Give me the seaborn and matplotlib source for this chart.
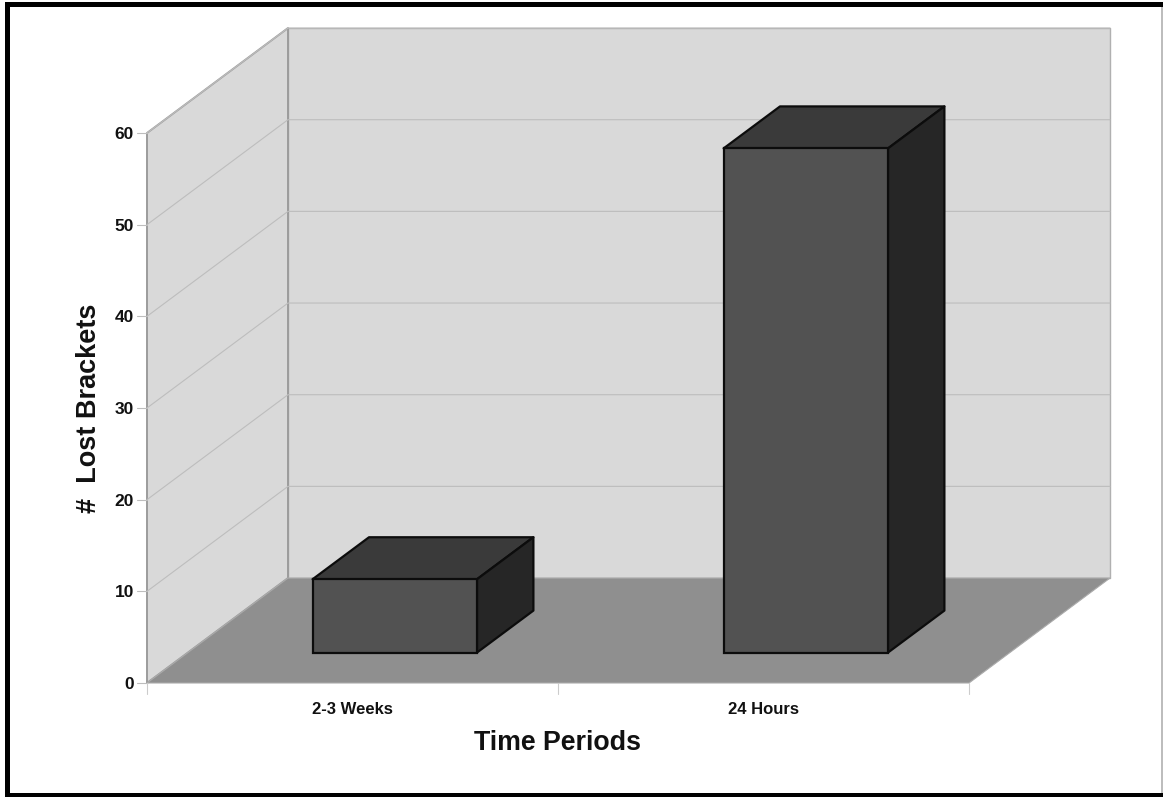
import matplotlib
matplotlib.use('Agg')
import matplotlib.pyplot as plt
import pandas as pd
import seaborn as sns
from matplotlib.patches import Polygon, Rectangle

periods = ['2-3 Weeks', '24 Hours']
lost_brackets = [8, 55]
y_ticks = [0, 10, 20, 30, 40, 50, 60]

WIDTH, HEIGHT = 1163, 797
# plot box of the front plane, in pixels
LEFT, RIGHT, TOP, BOTTOM = 147, 969, 133, 683
# depth of the fake 3d box, in data units
DEPTH_X = 141 / 411
DEPTH_Y = 11.45
BAR_START_X = 0.30
BAR_START_Y = 0.29
BAR_DEPTH = 0.4

WALL = '#d9d9d9'
FLOOR = '#8f8f8f'
GRID = '#bdbdbd'
EDGE = '#9c9c9c'
FRONT = '#525252'
TOPC = '#3a3a3a'
SIDE = '#262626'
INK = '#111111'
BAR_EDGE = '#0c0c0c'


def poly(ax, pts, color, edge='none', lw=0.0, z=1):
    ax.add_patch(Polygon(pts, closed=True, facecolor=color, edgecolor=edge,
                         linewidth=lw, zorder=z, clip_on=False, joinstyle='round'))


def frame_bar(fig, x0, y0, x1, y1, color='black'):
    # pixel box, y measured from the top of the picture
    fig.add_artist(Rectangle((x0 / WIDTH, 1 - y1 / HEIGHT), (x1 - x0) / WIDTH, (y1 - y0) / HEIGHT,
                             transform=fig.transFigure, facecolor=color, edgecolor='none'))


def main():
    sns.set_theme(style='white')
    plt.rcParams['font.family'] = ['Liberation Sans', 'DejaVu Sans']

    fig = plt.figure(figsize=(WIDTH / 100, HEIGHT / 100), dpi=100, facecolor='white')
    ax = fig.add_axes([LEFT / WIDTH, 1 - BOTTOM / HEIGHT,
                       (RIGHT - LEFT) / WIDTH, (BOTTOM - TOP) / HEIGHT])
    ax.patch.set_visible(False)

    df = pd.DataFrame({'period': periods, 'lost': lost_brackets})
    sns.barplot(data=df, x='period', y='lost', ax=ax, width=0.4, color=FRONT,
                saturation=1, zorder=4)
    ax.set_xlim(-0.5, len(periods) - 0.5)
    ax.set_ylim(y_ticks[0], y_ticks[-1])

    x0, x1 = ax.get_xlim()
    y0, y1 = ax.get_ylim()
    dx, dy = DEPTH_X, DEPTH_Y

    # back wall, side wall, floor
    poly(ax, [(x0 + dx, y0 + dy), (x1 + dx, y0 + dy), (x1 + dx, y1 + dy), (x0 + dx, y1 + dy)],
         WALL, '#b0b0b0', 1.0)
    poly(ax, [(x0, y0), (x0 + dx, y0 + dy), (x0 + dx, y1 + dy), (x0, y1)], WALL, EDGE, 1.4)
    poly(ax, [(x0, y0), (x1, y0), (x1 + dx, y0 + dy), (x0 + dx, y0 + dy)], FLOOR, '#ababab', 0.8, z=2)

    for t in y_ticks[1:]:
        ax.plot([x0, x0 + dx, x1 + dx], [t, t + dy, t + dy], color=GRID, lw=0.8,
                zorder=1.5, clip_on=False)
        ax.plot([x0 - 0.024, x0], [t, t], color=GRID, lw=0.8, clip_on=False)
    ax.plot([x0 - 0.024, x0], [y0, y0], color=GRID, lw=0.8, clip_on=False)

    # bars: move the front face back onto the floor, then add top and side
    sx, sy = dx * BAR_START_X, dy * BAR_START_Y
    bx, by = dx * BAR_DEPTH, dy * BAR_DEPTH
    for bar in ax.patches:
        if not isinstance(bar, Rectangle) or bar.get_facecolor()[:3] == (1, 1, 1):
            continue
        left = bar.get_x() + sx
        right = left + bar.get_width()
        low = sy
        high = bar.get_height() + sy
        bar.set_x(left)
        bar.set_y(low)
        bar.set_edgecolor(BAR_EDGE)
        bar.set_linewidth(1.6)
        bar.set_clip_on(False)
        poly(ax, [(left, high), (right, high), (right + bx, high + by), (left + bx, high + by)],
             TOPC, BAR_EDGE, 1.6, z=3)
        poly(ax, [(right, low), (right + bx, low + by), (right + bx, high + by), (right, high)],
             SIDE, BAR_EDGE, 1.6, z=3)

    for side in ax.spines.values():
        side.set_visible(False)

    ax.set_yticks(y_ticks)
    ax.set_yticklabels([str(t) for t in y_ticks], fontsize=12.5, fontweight='bold', color=INK)
    ax.tick_params(axis='y', length=0, pad=9.4)
    ax.set_xticks(range(len(periods)))
    ax.set_xticklabels(periods, fontsize=12, fontweight='bold', color=INK)
    ax.tick_params(axis='x', length=0, pad=14)
    for i in range(len(periods) + 1):
        ax.plot([x0 + i, x0 + i], [y0, y0 - 1.2], color='#cccccc', lw=0.8, clip_on=False)

    ax.set_xlabel('Time Periods', fontsize=19.3, fontweight='bold', color=INK, labelpad=9)
    ax.set_ylabel('#  Lost Brackets', fontsize=19.5, fontweight='bold', color=INK, labelpad=9)

    # picture frame: black on three sides, only a thin grey line on the right
    frame_bar(fig, 5, 2, WIDTH, 7)
    frame_bar(fig, 5, 2, 10, HEIGHT)
    frame_bar(fig, 5, 793, WIDTH, HEIGHT)
    frame_bar(fig, 1161, 7, 1163, 793, color='#bdbdbd')
    fig.savefig('out.png', dpi=100, facecolor='white')


if __name__ == '__main__':
    main()
